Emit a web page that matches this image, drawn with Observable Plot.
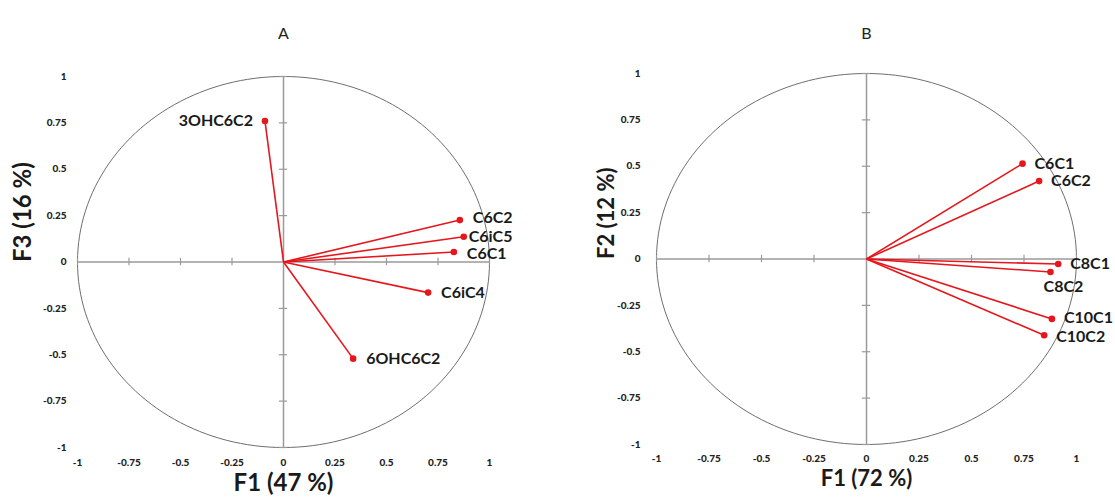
<!DOCTYPE html>
<html>
<head>
<meta charset="utf-8">
<script src="https://cdn.jsdelivr.net/npm/d3@7"></script>
<script src="https://cdn.jsdelivr.net/npm/@observablehq/plot@0.6"></script>
<style>
  html, body { margin: 0; padding: 0; background: #fff; }
  #row { display: flex; flex-direction: row; width: 1115px; height: 503px; }
  #row svg { display: block; }
</style>
</head>
<body>
<div id="row"></div>
<script>
// ---- data ----
const panelTitles = ["A", "B"];
const xLabels = ["F1 (47 %)", "F1 (72 %)"];
const yLabels = ["F3 (16 %)", "F2 (12 %)"];
const tickValues = [-1, -0.75, -0.5, -0.25, 0, 0.25, 0.5, 0.75, 1];

const varsA = ["3OHC6C2", "C6C2", "C6iC5", "C6C1", "C6iC4", "6OHC6C2"];
const f1A   = [-0.09, 0.856, 0.875, 0.827, 0.702, 0.338];
const f3A   = [0.76, 0.226, 0.136, 0.054, -0.165, -0.521];

const varsB = ["C6C1", "C6C2", "C8C1", "C8C2", "C10C1", "C10C2"];
const f1B   = [0.743, 0.822, 0.913, 0.876, 0.883, 0.846];
const f2B   = [0.514, 0.42, -0.027, -0.07, -0.323, -0.411];

// ---- helpers ----
const rowsA = varsA.map((name, i) => ({name, x: f1A[i], y: f3A[i]}));
const rowsB = varsB.map((name, i) => ({name, x: f1B[i], y: f2B[i]}));
const circle = d3.range(0, 361, 2).map(a => ({x: Math.cos(a * Math.PI / 180), y: Math.sin(a * Math.PI / 180)}));
const minorTicks = tickValues.filter(t => t !== 0);
const FONT = "Lato, 'Open Sans', sans-serif";
const RED = "#e5161c";
const AXIS = "#9a9a9a";

function panel(rows, i, cfg) {
  const labelMarks = cfg.groups.map(g => Plot.text(rows.filter(g.filter), {
    x: "x", y: "y", text: "name",
    textAnchor: g.anchor, dx: g.dx, dy: g.dy || 0,
    fontSize: 16, fontWeight: "bold", fill: "#1a1a1a", fontFamily: FONT
  }));
  return Plot.plot({
    width: cfg.width, height: 503,
    marginLeft: cfg.ml, marginRight: cfg.mr, marginTop: cfg.mt, marginBottom: cfg.mb,
    style: {fontFamily: FONT, background: "white"},
    x: {domain: [-1, 1]},
    y: {domain: [-1, 1]},
    marks: [
      Plot.axisX({ticks: tickValues, tickFormat: d => String(d), tickSize: 0, tickPadding: cfg.xpad,
                  fontSize: 10, fontWeight: 900, fill: "#222", label: null}),
      Plot.axisY({ticks: tickValues, tickFormat: d => String(d), tickSize: 0, tickPadding: cfg.ypad,
                  fontSize: 10, fontWeight: 900, fill: "#222", label: null}),
      Plot.line(circle, {x: "x", y: "y", stroke: "#6e6e6e", strokeWidth: 1}),
      Plot.ruleY([0], {x1: -1, x2: 1, stroke: AXIS, strokeWidth: 1.5}),
      Plot.ruleX([0], {y1: -1, y2: 1, stroke: AXIS, strokeWidth: 1.5}),
      Plot.ruleX(minorTicks, {y1: -0.02, y2: 0.02, stroke: AXIS, strokeWidth: 1.2}),
      Plot.ruleY(minorTicks, {x1: -0.02, x2: 0.02, stroke: AXIS, strokeWidth: 1.2}),
      Plot.link(rows, {x1: 0, y1: 0, x2: "x", y2: "y", stroke: RED, strokeWidth: 1.6}),
      Plot.dot(rows, {x: "x", y: "y", r: 3.3, fill: RED, stroke: "none"}),
      ...labelMarks,
      Plot.text([panelTitles[i]], {frameAnchor: "top", dy: cfg.titleDy, fontSize: 16, fill: "#222", fontFamily: FONT}),
      Plot.text([xLabels[i]], {frameAnchor: "bottom", dy: cfg.xlabDy, fontSize: cfg.xlabSize, fontWeight: "bold", fill: "#1a1a1a", fontFamily: FONT}),
      Plot.text([yLabels[i]], {frameAnchor: "left", dx: cfg.ylabDx, rotate: -90, fontSize: cfg.ylabSize, fontWeight: "bold", fill: "#1a1a1a", fontFamily: FONT})
    ]
  });
}

const plotA = panel(rowsA, 0, {
  width: 557, ml: 77, mr: 68, mt: 76, mb: 56, xpad: 11, ypad: 11,
  titleDy: -49, xlabDy: 43, xlabSize: 24, ylabDx: -54, ylabSize: 24,
  groups: [
    {filter: d => d.name === "3OHC6C2", anchor: "end", dx: -12},
    {filter: d => d.name === "C6C2", anchor: "start", dx: 13, dy: -2},
    {filter: d => d.name === "C6iC5", anchor: "start", dx: 5},
    {filter: d => d.name === "C6C1", anchor: "start", dx: 13, dy: 2},
    {filter: d => d.name === "C6iC4" || d.name === "6OHC6C2", anchor: "start", dx: 13}
  ]
});

const plotB = panel(rowsB, 1, {
  width: 558, ml: 99, mr: 39, mt: 73, mb: 59, xpad: 10, ypad: 16,
  titleDy: -46, xlabDy: 41, xlabSize: 22, ylabDx: -50, ylabSize: 22,
  groups: [
    {filter: d => d.name === "C8C2", anchor: "middle", dx: 13, dy: 15},
    {filter: d => d.name === "C10C1", anchor: "start", dx: 12, dy: -1},
    {filter: d => d.name === "C10C2", anchor: "start", dx: 12, dy: 2},
    {filter: d => ["C6C1", "C6C2", "C8C1"].includes(d.name), anchor: "start", dx: 12}
  ]
});

document.getElementById("row").append(plotA, plotB);
</script>
</body>
</html>
